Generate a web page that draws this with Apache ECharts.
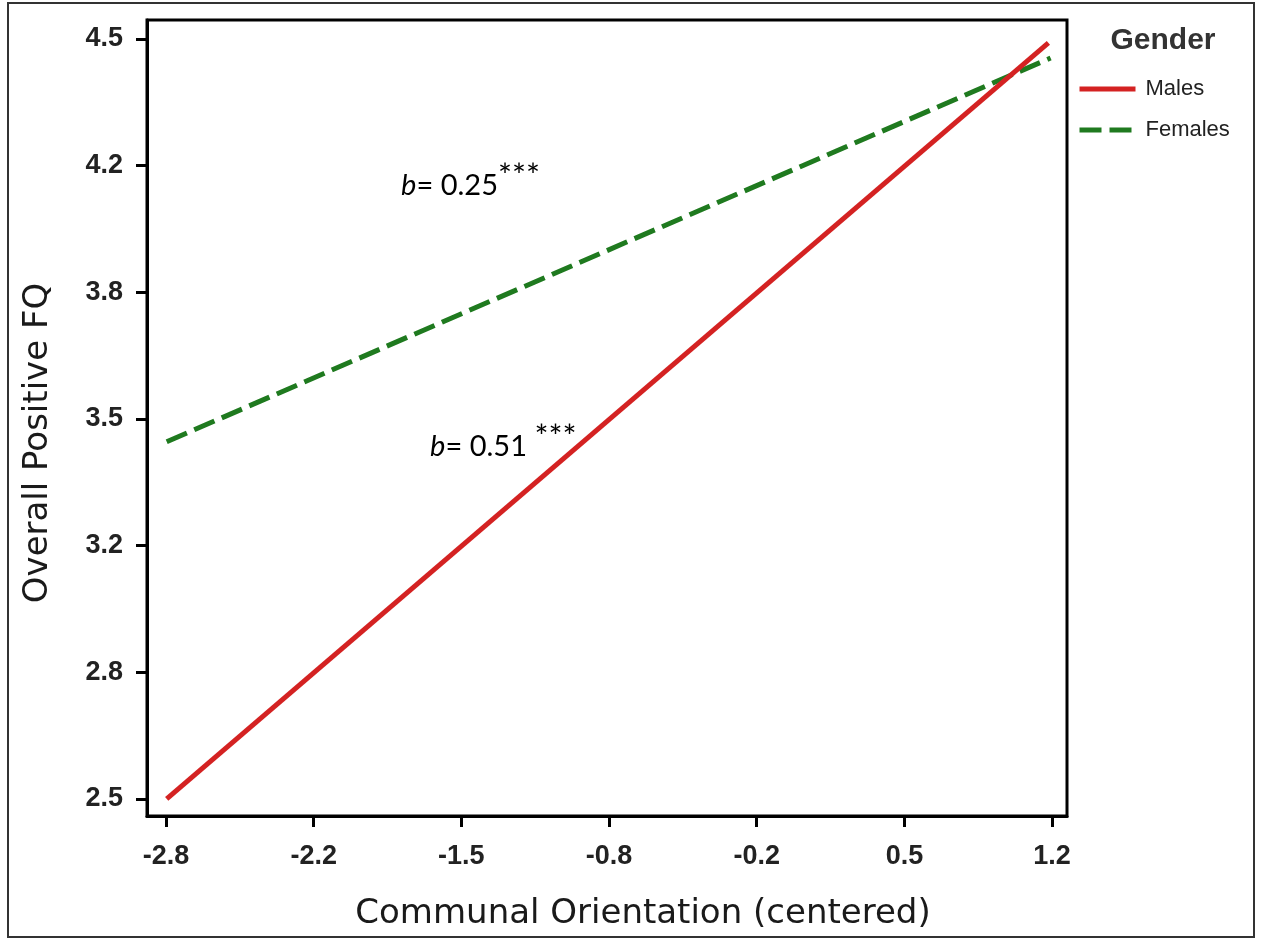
<!DOCTYPE html>
<html>
<head>
<meta charset="utf-8">
<script src="https://cdn.jsdelivr.net/npm/echarts@6/dist/echarts.min.js"></script>
<style>
html,body{margin:0;padding:0;background:#fff;}
#chart{width:1261px;height:939px;}
</style>
</head>
<body>
<div id="chart"></div>
<script>
// ---- data ----
const xTickValues = [-2.8333, -2.1667, -1.5, -0.8333, -0.1667, 0.5, 1.1667];
const xTickLabels = ['-2.8', '-2.2', '-1.5', '-0.8', '-0.2', '0.5', '1.2'];
const yTickValues = [2.5, 2.8333, 3.1667, 3.5, 3.8333, 4.1667, 4.5];
const yTickLabels = ['2.5', '2.8', '3.2', '3.5', '3.8', '4.2', '4.5'];
const seriesNames = ['Males', 'Females'];
const malesData = [[-2.83, 2.50], [1.15, 4.49]];
const femalesData = [[-2.83, 3.44], [1.16, 4.45]];
const annotationTexts = [
  { b: 'b', rest: '= 0.25', stars: '***' },
  { b: 'b', rest: '= 0.51 ', stars: '***' }
];
const annotationAnchors = [[-1.772, 4.066], [-1.641, 3.379]];
const xRange = [-2.919, 1.234];
const yRange = [2.455, 4.55];

function lookup(values, labels, v) {
  for (let i = 0; i < values.length; i++) {
    if (Math.abs(values[i] - v) < 1e-3) return labels[i];
  }
  return '';
}

const chart = echarts.init(document.getElementById('chart'), null, { renderer: 'canvas' });
const tickFont = { fontFamily: 'Liberation Sans, Arial, sans-serif', fontWeight: 'bold', fontSize: 27, color: '#222' };
const titleFont = { fontFamily: 'DejaVu Sans, Liberation Sans, sans-serif', fontSize: 34, color: '#1a1a1a' };

const option = {
  backgroundColor: '#fff',
  animation: false,
  title: {
    text: 'Gender',
    left: 1163,
    top: 26,
    textAlign: 'center',
    padding: 0,
    textStyle: { fontFamily: 'Liberation Sans, Arial, sans-serif', fontWeight: 'bold', fontSize: 30, color: '#333' }
  },
  legend: {
    orient: 'vertical',
    left: 1077,
    top: 78,
    itemWidth: 56,
    itemHeight: 6,
    itemGap: 19,
    padding: 0,
    data: seriesNames,
    itemStyle: { opacity: 0 },
    lineStyle: { width: 5 },
    textStyle: { fontFamily: 'Liberation Sans, Arial, sans-serif', fontSize: 22, color: '#222', padding: [0, 0, 0, 5] }
  },
  grid: {
    left: 147, top: 20, width: 920, height: 796,
    show: true, borderColor: '#000', borderWidth: 3, backgroundColor: '#fff'
  },
  xAxis: {
    type: 'value',
    min: xRange[0], max: xRange[1],
    name: 'Communal Orientation (centered)',
    nameLocation: 'middle',
    nameGap: 81,
    nameTextStyle: Object.assign({ padding: [0, 0, 0, 72] }, titleFont),
    axisLine: { show: true, onZero: false, lineStyle: { color: '#000', width: 3 } },
    axisTick: { show: true, length: 11, lineStyle: { color: '#000', width: 3 }, customValues: xTickValues },
    axisLabel: Object.assign({ margin: 27, customValues: xTickValues, formatter: v => lookup(xTickValues, xTickLabels, v) }, tickFont),
    splitLine: { show: false }
  },
  yAxis: {
    type: 'value',
    min: yRange[0], max: yRange[1],
    name: 'Overall Positive FQ',
    nameLocation: 'middle',
    nameGap: 92,
    nameTextStyle: Object.assign({ padding: [0, 50, 0, 0] }, titleFont),
    axisLine: { show: true, onZero: false, lineStyle: { color: '#000', width: 3 } },
    axisTick: { show: true, length: 11, lineStyle: { color: '#000', width: 3 }, customValues: yTickValues },
    axisLabel: Object.assign({ margin: 24, customValues: yTickValues, formatter: v => lookup(yTickValues, yTickLabels, v) }, tickFont),
    splitLine: { show: false }
  },
  series: [
    {
      name: seriesNames[0], type: 'line', data: malesData,
      symbol: 'none', lineStyle: { color: '#d42222', width: 5 }, itemStyle: { color: '#d42222' }, z: 3
    },
    {
      name: seriesNames[1], type: 'line', data: femalesData,
      symbol: 'none', lineStyle: { color: '#1f7a1f', width: 5, type: [22, 8] }, itemStyle: { color: '#1f7a1f' }, z: 2
    }
  ]
};
chart.setOption(option);

const richStyles = {
  b: { fontFamily: 'Lato, Open Sans, sans-serif', fontStyle: 'italic', fontSize: 29, color: '#000', lineHeight: 36 },
  r: { fontFamily: 'Lato, Open Sans, sans-serif', fontSize: 29, color: '#000', lineHeight: 36 },
  s: { fontFamily: 'Lato, Open Sans, sans-serif', fontSize: 33, color: '#000', lineHeight: 36, verticalAlign: 'top', padding: [-8, 0, 0, 0] }
};
const graphics = [{
  type: 'rect', silent: true,
  shape: { x: 8, y: 3, width: 1246, height: 934 },
  style: { fill: 'none', stroke: '#333', lineWidth: 2 }
}];
annotationTexts.forEach((a, i) => {
  const p = chart.convertToPixel({ gridIndex: 0 }, annotationAnchors[i]);
  graphics.push({
    type: 'text', silent: true, z: 10,
    x: p[0], y: p[1],
    style: {
      text: '{b|' + a.b + '}{r|' + a.rest + '}{s|' + a.stars + '}',
      rich: richStyles,
      align: 'left', verticalAlign: 'bottom'
    }
  });
});
chart.setOption({ graphic: graphics });
</script>
</body>
</html>
